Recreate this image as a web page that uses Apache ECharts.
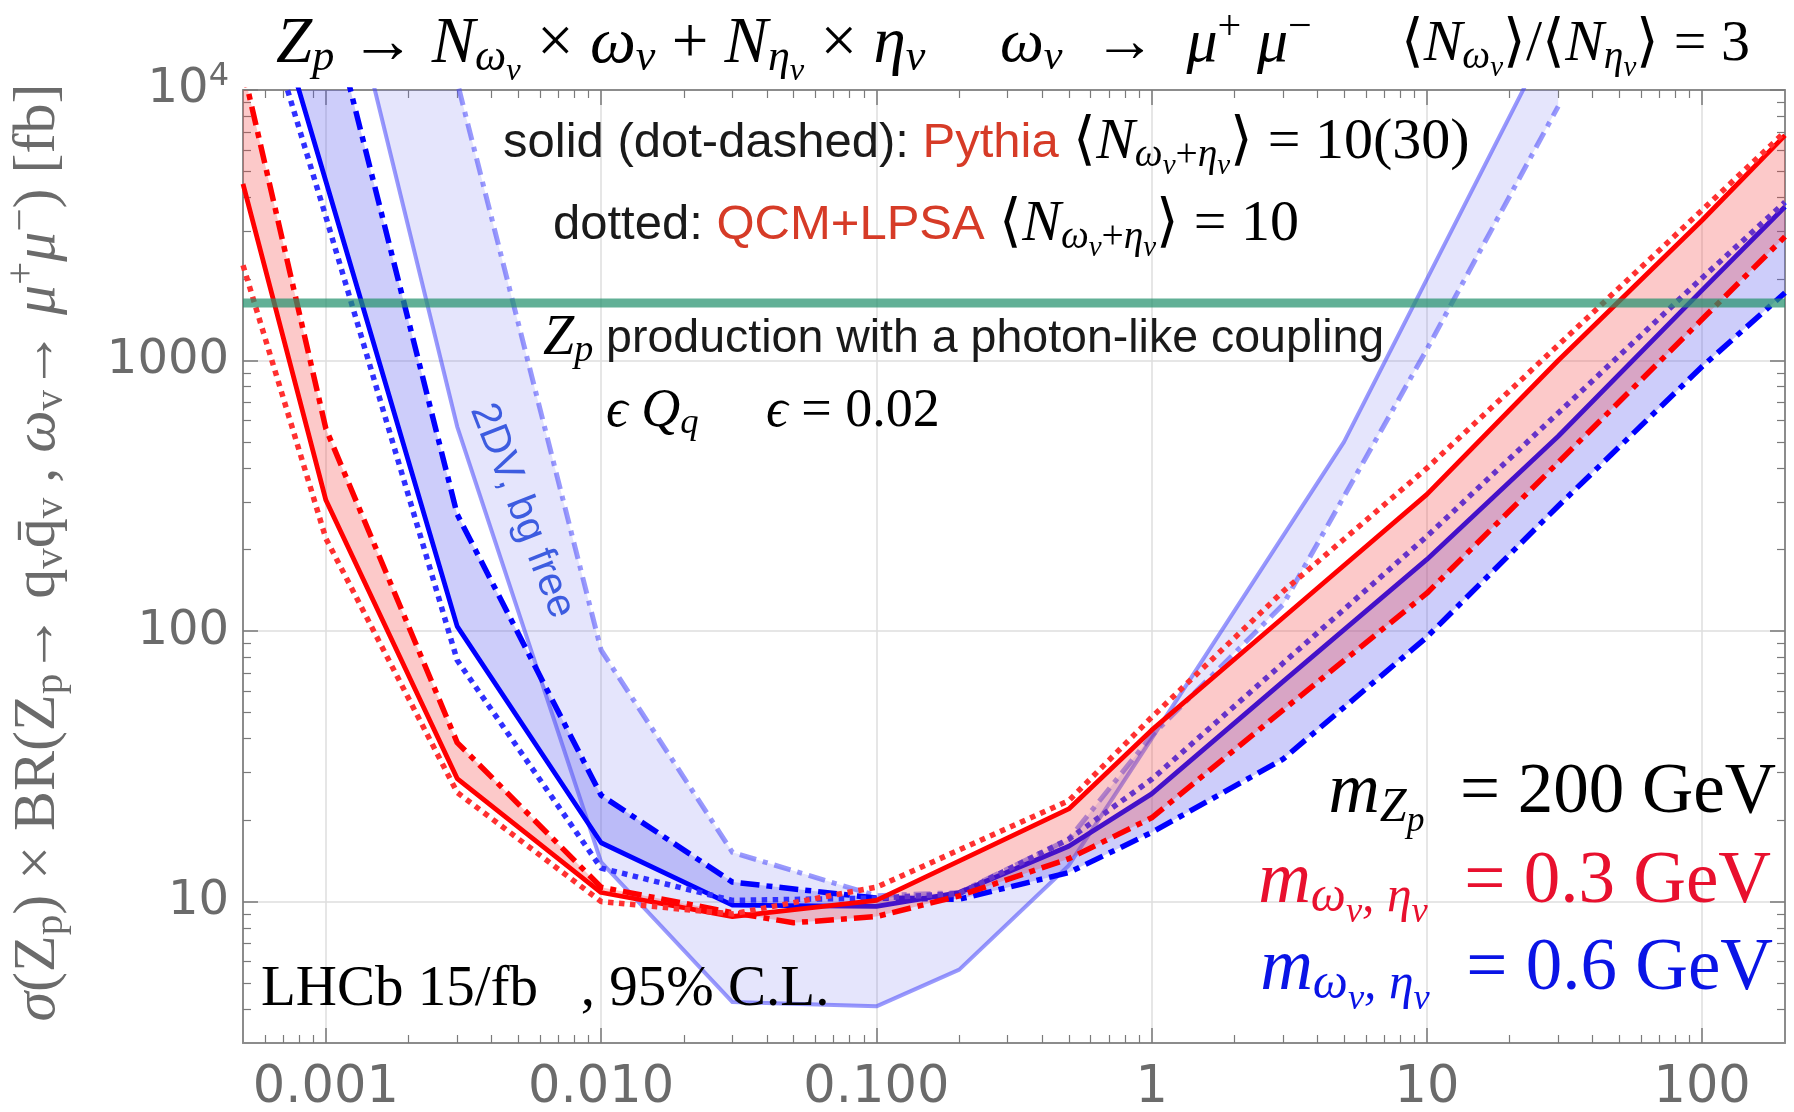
<!DOCTYPE html>
<html>
<head>
<meta charset="utf-8">
<script src="https://cdn.jsdelivr.net/npm/echarts@6/dist/echarts.min.js"></script>
<style>
  html, body { margin: 0; padding: 0; background: #ffffff; }
  #chart { width: 1794px; height: 1112px; }
</style>
</head>
<body>
<div id="chart"></div>
<script>
// ---- data -------------------------------------------------------------
// dark-quark proper lifetime grid (x) and 95% C.L. limits on sigma x BR in fb
const cTau = [0.0005, 0.001, 0.003, 0.01, 0.03, 0.05, 0.1, 0.2, 0.5, 1, 3, 5, 10, 30, 100, 200];

// m(omega_v, eta_v) = 0.3 GeV
const redPythia10 = [4500, 305, 28.5, 10.8, 8.8, null, 10.1, null, 22, 43, 112, null, 320, 1000, 3300, 6800];
const redPythia30 = [12000, 560, 38.7, 11.3, 9.1, 8.35, 8.8, 10.5, 14.4, 20.4, 51, null, 138, 420, 1420, 2870];
const redQcm10    = [2250, 220, 25.3, 10.0, 9.0, null, 11.3, null, 23.6, 48, 140, null, 400, 1140, 3600, 7000];

// m(omega_v, eta_v) = 0.6 GeV
const bluePythia10 = [50000, 4600, 104, 16.5, 9.7, null, 9.6, 10.8, 16, 25, 65, null, 184, 525, 1820, 3700];
const bluePythia30 = [200000, 23000, 270, 24.7, 11.8, null, 10.3, 10.2, 12.8, 18, 33.6, null, 95, 290, 950, 1780];
const blueQcm10    = [35000, 3400, 78, 13.3, 10.1, null, 10.3, 10.7, 17, 28.3, 76, null, 224, 640, 2020, 3850];

// 2DV, background free (0.6 GeV)
const dvPythia10 = [null, 55000, 570, 14, 4.25, null, 4.1, 5.6, 13.6, 40, null, 500, 2000, 18000, null, null];
const dvPythia30 = [null, 870000, 10700, 85, 15.2, null, 10.5, 10.8, 17, 41, 125, null, 1100, 8700, null, null];

// Z_p production with photon-like coupling, eps = 0.02
const photonLikeXsec = 1630;

// axes
const xRange = [0.0005, 200];
const yRange = [3, 10000];
const xMajor = [0.001, 0.01, 0.1, 1, 10, 100];
const xMajorLabels = ['0.001', '0.010', '0.100', '1', '10', '100'];
const yMajor = [10, 100, 1000, 10000];
const yMajorLabels = ['10', '100', '1000', '{b|10}{e|4}'];

// ---- helpers ----------------------------------------------------------
function pairs(vals) {
  const out = [];
  cTau.forEach((x, i) => { if (vals[i] != null) out.push([x, vals[i]]); });
  return out;
}
function minorsBetween(lo, hi) {
  const out = [];
  for (let e = Math.floor(Math.log10(lo)) - 1; e <= Math.ceil(Math.log10(hi)); e++) {
    for (let m = 2; m <= 9; m++) {
      const v = parseFloat((m * Math.pow(10, e)).toPrecision(6));
      if (v > lo * 1.0001 && v < hi * 0.9999) out.push(v);
    }
  }
  return out;
}
function labelFor(v, vals, labels) {
  for (let i = 0; i < vals.length; i++) {
    if (Math.abs(Math.log10(v) - Math.log10(vals[i])) < 1e-6) return labels[i];
  }
  return '';
}

const frameGray = '#8c8c8c';
const tickGray = '#7a7a7a';
const labelGray = '#6b6b6b';
const gridGray = '#dedede';
const xMinor = minorsBetween(xRange[0], xRange[1]);
const yMinor = minorsBetween(yRange[0], yRange[1]);

function axisCommon(range) {
  return { type: 'log', logBase: 10, min: range[0], max: range[1], gridIndex: 0 };
}
function frameAxis(base, pos, majors, withLabels, labelFmt, withSplit, labelSize, labelMargin) {
  return Object.assign(base, {
    position: pos,
    axisLine: { show: true, onZero: false, lineStyle: { color: frameGray, width: 2 } },
    axisTick: { show: true, inside: true, length: 15, customValues: majors,
                lineStyle: { color: tickGray, width: 1.5 } },
    axisLabel: withLabels ? {
      show: true, customValues: majors, color: labelGray, fontSize: labelSize,
      fontFamily: 'DejaVu Sans', margin: labelMargin, formatter: labelFmt,
      rich: { b: { fontSize: 48, fontFamily: 'DejaVu Sans', color: labelGray },
              e: { fontSize: 32, fontFamily: 'DejaVu Sans', color: labelGray, padding: [0, 0, 26, 0] } }
    } : { show: false },
    splitLine: { show: withSplit, lineStyle: { color: gridGray, width: 1.5 } },
    minorTick: { show: false }, minorSplitLine: { show: false }
  });
}
function minorAxis(base, pos, minors) {
  return Object.assign(base, {
    position: pos,
    axisLine: { show: false, onZero: false },
    axisTick: { show: true, inside: true, length: 8, customValues: minors,
                lineStyle: { color: tickGray, width: 1.2 } },
    axisLabel: { show: false },
    splitLine: { show: false }
  });
}

function lineSeries(vals, color, width, dash, z) {
  return {
    type: 'line', data: pairs(vals), symbol: 'none', clip: true, z: z,
    silent: true, animation: false, connectNulls: true,
    lineStyle: { color: color, width: width, type: dash, cap: 'butt', join: 'round' }
  };
}
function bandSeries(upper, lower, fill, z) {
  const top = pairs(upper);
  const bottom = pairs(lower).reverse();
  return {
    type: 'custom', z: z, clip: true, silent: true, animation: false,
    data: [[1, 10]],
    renderItem(params, api) {
      const pts = top.concat(bottom).map(p => api.coord(p));
      const cs = params.coordSys;
      return {
        type: 'polygon',
        shape: { points: pts },
        style: { fill: fill, stroke: null },
        clipPath: { type: 'rect', shape: { x: cs.x, y: cs.y, width: cs.width, height: cs.height } }
      };
    }
  };
}

const dotDash = [19, 7, 6, 7];
const dotted = [5.5, 5.5];

// ---- text ----------------------------------------------------------------
const serif = 'Liberation Serif';
const sans = 'Liberation Sans';
function mathRich(size, color, sansSize) {
  return {
    i:   { fontFamily: serif, fontStyle: 'italic', fontSize: size, fill: color },
    u:   { fontFamily: serif, fontSize: size, fill: color },
    s:   { fontFamily: serif, fontStyle: 'italic', fontSize: size * 0.68, fill: color, padding: [size * 0.42, 0, 0, 0] },
    su:  { fontFamily: serif, fontSize: size * 0.68, fill: color, padding: [size * 0.42, 0, 0, 0] },
    ss:  { fontFamily: serif, fontStyle: 'italic', fontSize: size * 0.5, fill: color, padding: [size * 0.8, 0, 0, 0] },
    p:   { fontFamily: serif, fontSize: size * 0.68, fill: color, padding: [0, 0, size * 0.55, 0] },
    hl:  { fontFamily: sans, fontSize: sansSize, fill: '#d63b27' },
    t:   { fontFamily: sans, fontSize: sansSize, fill: '#1a1a1a' }
  };
}
function textEl(x, y, text, size, color, align, sansSize) {
  return {
    type: 'text', x: x, y: y, silent: true, z: 200,
    style: { text: text, fontFamily: serif, fontSize: size, fill: color,
             align: align, verticalAlign: 'middle', rich: mathRich(size, color, sansSize || size) }
  };
}

const graphics = [
  textEl(276, 45, '{i|Z}{s|p}{u| → }{i|N}{s|ω}{ss|v}{u| × }{i|ω}{s|v}{u| + }{i|N}{s|η}{ss|v}{u| × }{i|η}{s|v}', 65, '#000', 'left'),
  textEl(1000, 45, '{i|ω}{s|v}{u|  →  }{i|μ}{p|+}{i| μ}{p|−}', 62, '#000', 'left'),
  textEl(1750, 45, '{u|⟨}{i|N}{s|ω}{ss|v}{u|⟩/⟨}{i|N}{s|η}{ss|v}{u|⟩ = 3}', 58, '#000', 'right'),

  textEl(503, 143, '{t|solid (dot-dashed): }{hl|Pythia}{u| ⟨}{i|N}{s|ω}{ss|v}{su|+}{s|η}{ss|v}{u|⟩ = 10(30)}', 58, '#000', 'left', 49),
  textEl(553, 225, '{t|dotted: }{hl|QCM+LPSA}{u| ⟨}{i|N}{s|ω}{ss|v}{su|+}{s|η}{ss|v}{u|⟩ = 10}', 58, '#000', 'left', 49),
  textEl(543, 339, '{i|Z}{s|p}{t| production with a photon-like coupling}', 56, '#000', 'left', 46.5),
  textEl(606, 412, '{i|ϵ Q}{s|q}{u|     }{i|ϵ}{u| = 0.02}', 54, '#000', 'left'),
  textEl(261, 990, '{u|LHCb 15/fb   , 95% C.L.}', 57, '#000', 'left'),

  textEl(1776, 793, '{i|m}{s|Z}{ss|p}{u|  = 200 GeV}', 71, '#000', 'right'),
  textEl(1771, 883, '{i|m}{s|ω}{ss|v}{s|, η}{ss|v}{u|  = 0.3 GeV}', 73, '#e8102e', 'right'),
  textEl(1773, 970, '{i|m}{s|ω}{ss|v}{s|, η}{ss|v}{u|  = 0.6 GeV}', 73, '#0a14e6', 'right'),

  {
    type: 'text', x: 522, y: 511, rotation: -1.2, silent: true, z: 200,
    style: { text: '2DV, bg free', fontFamily: sans, fontSize: 41, fill: '#3d5ce0',
             align: 'center', verticalAlign: 'middle' }
  }
];

// ---- chart ---------------------------------------------------------------
const chart = echarts.init(document.getElementById('chart'), null, { renderer: 'canvas' });

const option = {
  animation: false,
  backgroundColor: '#ffffff',
  grid: { left: 243, right: 9, top: 90, bottom: 69, containLabel: false, outerBoundsMode: 'none' },
  xAxis: [
    frameAxis(axisCommon(xRange), 'bottom', xMajor, true, v => labelFor(v, xMajor, xMajorLabels), true, 51, 20),
    minorAxis(axisCommon(xRange), 'bottom', xMinor),
    frameAxis(axisCommon(xRange), 'top', xMajor, false, null, false),
    minorAxis(axisCommon(xRange), 'top', xMinor)
  ],
  yAxis: [
    Object.assign(frameAxis(axisCommon(yRange), 'left', yMajor, true, v => labelFor(v, yMajor, yMajorLabels), true, 48, 14), {
      name: '{i|σ}(Z{s|p}) × BR(Z{s|p}→ q{s|v}q̄{s|v} , {i|ω}{s|v}→ {i|μ}{p|+}{i|μ}{p|−}) [fb]',
      nameLocation: 'middle', nameRotate: 90, nameGap: 168,
      nameTextStyle: {
        fontFamily: serif, fontSize: 60, color: labelGray, padding: [0, 0, 0, 28],
        rich: {
          i: { fontFamily: serif, fontStyle: 'italic', fontSize: 60, color: labelGray },
          s: { fontFamily: serif, fontSize: 41, color: labelGray, padding: [25, 0, 0, 0] },
          p: { fontFamily: serif, fontSize: 41, color: labelGray, padding: [0, 0, 32, 0] }
        }
      }
    }),
    minorAxis(axisCommon(yRange), 'left', yMinor),
    frameAxis(axisCommon(yRange), 'right', yMajor, false, null, false),
    minorAxis(axisCommon(yRange), 'right', yMinor)
  ],
  series: [
    bandSeries(dvPythia10, dvPythia30, 'rgba(110,110,240,0.18)', 2),
    lineSeries(dvPythia10, 'rgba(70,70,250,0.55)', 4, 'solid', 3),
    lineSeries(dvPythia30, 'rgba(70,70,250,0.55)', 5, [17, 7, 5, 7], 3),

    bandSeries(bluePythia10, bluePythia30, 'rgba(90,90,240,0.30)', 4),
    lineSeries(bluePythia10, '#0000ff', 4.8, 'solid', 5),
    lineSeries(bluePythia30, '#0000ff', 5.5, dotDash, 5),
    lineSeries(blueQcm10, '#3030ff', 5.5, dotted, 5),

    bandSeries(redPythia10, redPythia30, 'rgba(245,60,60,0.28)', 6),
    lineSeries(redPythia10, '#ff0000', 4.8, 'solid', 7),
    lineSeries(redPythia30, '#ff0000', 5.5, dotDash, 7),
    lineSeries(redQcm10, '#ff3030', 5.5, dotted, 7),

    {
      type: 'line', z: 9, symbol: 'none', silent: true, animation: false, clip: true,
      data: [[xRange[0], photonLikeXsec], [xRange[1], photonLikeXsec]],
      lineStyle: { color: 'rgba(36,145,109,0.72)', width: 9 }
    }
  ],
  graphic: graphics
};

chart.setOption(option);
</script>
</body>
</html>
